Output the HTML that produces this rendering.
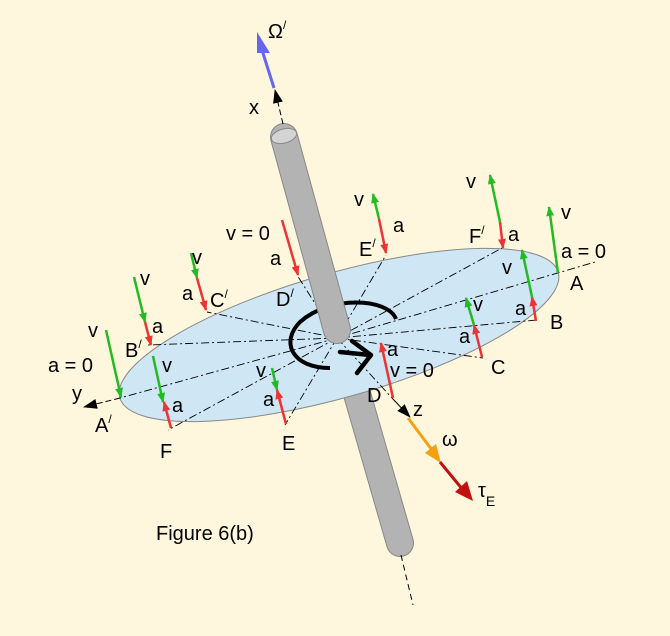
<!DOCTYPE html>
<html><head><meta charset="utf-8"><style>
html,body{margin:0;padding:0;background:#fff7dd;}
svg{display:block;}
text{font-family:"Liberation Sans",Arial,sans-serif;font-size:20px;fill:#000;}
</style></head><body>
<svg width="670" height="636" viewBox="0 0 670 636" xmlns="http://www.w3.org/2000/svg">
<defs>
<marker id="hg" markerWidth="10" markerHeight="10" refX="9" refY="5" orient="auto" markerUnits="userSpaceOnUse"><path d="M0,1 L10,5 L0,9 z" fill="#22bb22"/></marker>
<marker id="hr" markerWidth="10" markerHeight="10" refX="9" refY="5" orient="auto" markerUnits="userSpaceOnUse"><path d="M0,1 L10,5 L0,9 z" fill="#ee3333"/></marker>
<marker id="hk" markerWidth="14" markerHeight="12" refX="13" refY="6" orient="auto" markerUnits="userSpaceOnUse"><path d="M0,1 L14,6 L0,11 z" fill="#000"/></marker>
</defs>
<rect x="0" y="0" width="670" height="636" fill="#fff7dd"/>
<line x1="353" y1="380" x2="400" y2="543" stroke="#888" stroke-width="28" stroke-linecap="round"/>
<line x1="353" y1="380" x2="400" y2="543" stroke="#b3b3b3" stroke-width="26" stroke-linecap="round"/>
<line x1="401" y1="555" x2="413" y2="605" stroke="#000" stroke-width="1" stroke-dasharray="6,4"/>
<ellipse cx="339" cy="335" rx="228" ry="62" transform="rotate(-16 339 335)" fill="#cfe6f5" stroke="#888" stroke-width="1"/>
<g stroke="#000" stroke-width="0.9" stroke-dasharray="8,3,2,3" fill="none">
<line x1="337" y1="338" x2="120" y2="398"/>
<line x1="337" y1="338" x2="595" y2="262"/>
<line x1="337" y1="338" x2="148" y2="345"/>
<line x1="337" y1="338" x2="537" y2="320"/>
<line x1="337" y1="338" x2="207" y2="312"/>
<line x1="337" y1="338" x2="483" y2="358"/>
<line x1="337" y1="338" x2="297" y2="275"/>
<line x1="337" y1="338" x2="392" y2="398"/>
<line x1="337" y1="338" x2="386" y2="255"/>
<line x1="337" y1="338" x2="285" y2="425"/>
<line x1="337" y1="338" x2="502" y2="248"/>
<line x1="337" y1="338" x2="168" y2="430"/>
</g>
<line x1="120" y1="398" x2="84" y2="407" stroke="#000" stroke-width="1" stroke-dasharray="6,3" marker-end="url(#hk)"/>
<line x1="392" y1="398" x2="410" y2="417" stroke="#000" stroke-width="1" marker-end="url(#hk)"/>
<path d="M396,319 C388,298 330,295 300,322 C280,342 292,368 330,368" fill="none" stroke="#000" stroke-width="4"/>
<line x1="284" y1="137" x2="337" y2="330" stroke="#888" stroke-width="28" stroke-linecap="round"/>
<line x1="284" y1="137" x2="337" y2="330" stroke="#b3b3b3" stroke-width="26" stroke-linecap="round"/>
<ellipse cx="284" cy="136" rx="13" ry="7" transform="rotate(-15 284 136)" fill="#d4d4d4" stroke="#888"/>
<path d="M340,352 L370,355 M352,341 L371,355 L357,373" fill="none" stroke="#000" stroke-width="4.5" stroke-linecap="round" stroke-linejoin="round"/>
<line x1="283" y1="124" x2="275" y2="90" stroke="#000" stroke-width="1" stroke-dasharray="6,3" marker-end="url(#hk)"/>
<line x1="274" y1="88" x2="262" y2="50" stroke="#6666ee" stroke-width="3"/>
<path d="M257,32 L270,53 L257,53 z" fill="#6666ee"/>
<line x1="408" y1="418" x2="432" y2="450" stroke="#f5a010" stroke-width="3"/>
<path d="M441,463 L425,453 L436,444 z" fill="#f5a010"/>
<line x1="440" y1="462" x2="463" y2="490" stroke="#c01010" stroke-width="3"/>
<path d="M473,501 L455,492 L467,481 z" fill="#c01010"/>
<g stroke-width="2.5" fill="none">
<line x1="106" y1="330" x2="121" y2="397" stroke="#22bb22" marker-end="url(#hg)"/>
<line x1="134" y1="277" x2="145" y2="322" stroke="#22bb22" marker-end="url(#hg)"/>
<line x1="145" y1="322" x2="151" y2="345" stroke="#ee3333" marker-end="url(#hr)"/>
<line x1="191" y1="253" x2="197" y2="278" stroke="#22bb22" marker-end="url(#hg)"/>
<line x1="197" y1="278" x2="206" y2="310" stroke="#ee3333" marker-end="url(#hr)"/>
<line x1="282" y1="220" x2="298" y2="275" stroke="#ee3333" marker-end="url(#hr)"/>
<line x1="153" y1="356" x2="163" y2="402" stroke="#22bb22" marker-end="url(#hg)"/>
<line x1="171" y1="428" x2="164" y2="402" stroke="#ee3333" marker-end="url(#hr)"/>
<line x1="272" y1="368" x2="277" y2="390" stroke="#22bb22" marker-end="url(#hg)"/>
<line x1="286" y1="424" x2="277" y2="390" stroke="#ee3333" marker-end="url(#hr)"/>
<line x1="379" y1="219" x2="373" y2="194" stroke="#22bb22" marker-end="url(#hg)"/>
<line x1="379" y1="219" x2="386" y2="253" stroke="#ee3333" marker-end="url(#hr)"/>
<line x1="500" y1="222" x2="490" y2="175" stroke="#22bb22" marker-end="url(#hg)"/>
<line x1="500" y1="222" x2="503" y2="248" stroke="#ee3333" marker-end="url(#hr)"/>
<line x1="558" y1="273" x2="549" y2="207" stroke="#22bb22" marker-end="url(#hg)"/>
<line x1="536" y1="321" x2="532" y2="297" stroke="#ee3333" marker-end="url(#hr)"/>
<line x1="532" y1="297" x2="522" y2="250" stroke="#22bb22" marker-end="url(#hg)"/>
<line x1="482" y1="357" x2="474" y2="325" stroke="#ee3333" marker-end="url(#hr)"/>
<line x1="474" y1="325" x2="466" y2="298" stroke="#22bb22" marker-end="url(#hg)"/>
<line x1="393" y1="398" x2="381" y2="343" stroke="#ee3333" marker-end="url(#hr)"/>
</g>
<text x="268" y="38">Ω<tspan font-size="12" dy="-9">/</tspan></text>
<text x="249" y="114">x</text>
<text x="88" y="337">v</text>
<text x="48" y="372">a = 0</text>
<text x="72" y="400">y</text>
<text x="95" y="432">A<tspan font-size="12" dy="-9">/</tspan></text>
<text x="140" y="285">v</text>
<text x="152" y="333">a</text>
<text x="125" y="357">B<tspan font-size="12" dy="-9">/</tspan></text>
<text x="192" y="264">v</text>
<text x="182" y="300">a</text>
<text x="210" y="307">C<tspan font-size="12" dy="-9">/</tspan></text>
<text x="226" y="240">v = 0</text>
<text x="270" y="265">a</text>
<text x="276" y="306">D<tspan font-size="12" dy="-9">/</tspan></text>
<text x="162" y="372">v</text>
<text x="172" y="412">a</text>
<text x="160" y="458">F</text>
<text x="256" y="377">v</text>
<text x="263" y="406">a</text>
<text x="282" y="450">E</text>
<text x="354" y="206">v</text>
<text x="393" y="232">a</text>
<text x="359" y="256">E<tspan font-size="12" dy="-9">/</tspan></text>
<text x="466" y="188">v</text>
<text x="508" y="241">a</text>
<text x="469" y="243">F<tspan font-size="12" dy="-9">/</tspan></text>
<text x="561" y="219">v</text>
<text x="561" y="258">a = 0</text>
<text x="570" y="290">A</text>
<text x="502" y="274">v</text>
<text x="515" y="315">a</text>
<text x="550" y="329">B</text>
<text x="473" y="311">v</text>
<text x="459" y="343">a</text>
<text x="491" y="374">C</text>
<text x="387" y="356">a</text>
<text x="390" y="377">v = 0</text>
<text x="367" y="402">D</text>
<text x="413" y="416">z</text>
<text x="442" y="446">ω</text>
<text x="478" y="497">τ<tspan font-size="14" dy="9">E</tspan></text>
<text x="156" y="540">Figure 6(b)</text>
</svg>
</body></html>
